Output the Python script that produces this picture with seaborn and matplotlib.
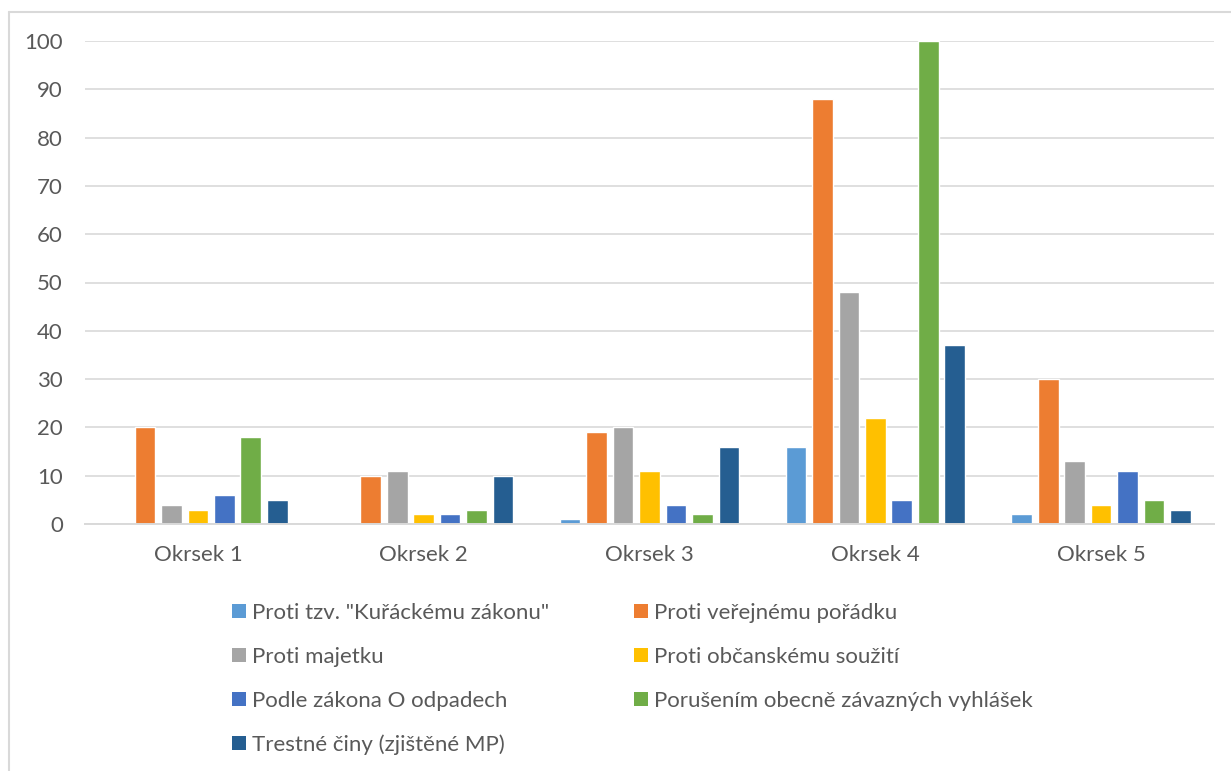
import pandas as pd
import matplotlib
matplotlib.use("Agg")
import matplotlib.pyplot as plt
import seaborn as sns
from matplotlib.patches import Patch
from matplotlib.lines import Line2D

# data
okrsky = ["Okrsek 1", "Okrsek 2", "Okrsek 3", "Okrsek 4", "Okrsek 5"]
kategorie = [
    'Proti tzv. "Kuřáckému zákonu"',
    "Proti veřejnému pořádku",
    "Proti majetku",
    "Proti občanskému soužití",
    "Podle zákona O odpadech",
    "Porušením obecně závazných vyhlášek",
    "Trestné činy (zjištěné MP)",
]
kuracky = [0, 0, 1, 16, 2]
verejny_poradek = [20, 10, 19, 88, 30]
majetek = [4, 11, 20, 48, 13]
obcanske_souziti = [3, 2, 11, 22, 4]
odpady = [6, 2, 4, 5, 11]
vyhlasky = [18, 3, 2, 100, 5]
trestne_ciny = [5, 10, 16, 37, 3]

barvy = ["#5B9BD5", "#ED7D31", "#A5A5A5", "#FFC000", "#4472C4", "#70AD47", "#255E91"]

# long format for seaborn
serie = [kuracky, verejny_poradek, majetek, obcanske_souziti, odpady, vyhlasky, trestne_ciny]
rows = []
for kat, hodnoty in zip(kategorie, serie):
    for okr, h in zip(okrsky, hodnoty):
        rows.append({"okrsek": okr, "typ": kat, "pocet": h})
df = pd.DataFrame(rows)

sns.set_style("white")
plt.rcParams["font.family"] = ["Lato", "DejaVu Sans"]

W, H = 1231, 771
fig = plt.figure(figsize=(W / 100, H / 100), dpi=100)
ax = fig.add_axes([85 / W, 1 - 524 / H, (1214 - 85) / W, (524 - 41) / H])

sns.barplot(data=df, x="okrsek", y="pocet", hue="typ", hue_order=kategorie,
            palette=barvy, width=0.82, gap=0.22, saturation=1, legend=False, ax=ax)

# axes styling (Excel look)
ax.set_ylim(0, 100)
ax.set_yticks(range(0, 101, 10))
ax.set_xlim(-0.5, len(okrsky) - 0.5)
ax.set_axisbelow(True)
ax.yaxis.grid(True, color="#d9d9d9", linewidth=1.2)
for s in ["top", "right", "left"]:
    ax.spines[s].set_visible(False)
ax.spines["bottom"].set_color("#d9d9d9")
ax.spines["bottom"].set_linewidth(1.4)
ax.tick_params(axis="both", length=0, labelsize=16, labelcolor="#595959")
ax.tick_params(axis="y", pad=16)
ax.tick_params(axis="x", pad=15)
ax.set_xlabel("")
ax.set_ylabel("")

# legend in two columns, filled row by row
handles = [Patch(facecolor=c, edgecolor="none") for c in barvy]
leg_kw = dict(loc="upper left", frameon=False, fontsize=16, labelcolor="#595959",
              handlelength=0.63, handleheight=0.59, handletextpad=0.25,
              labelspacing=1.07, borderpad=0, borderaxespad=0)
leg1 = fig.legend(handles[0::2], kategorie[0::2],
                  bbox_to_anchor=(232 / W, 1 - 603 / H), **leg_kw)
leg2 = fig.legend(handles[1::2], kategorie[1::2],
                  bbox_to_anchor=(634 / W, 1 - 603 / H), **leg_kw)

# chart area border (left and top only visible)
fig.add_artist(Line2D([8.5 / W, 8.5 / W], [0, 1 - 12 / H], color="#d9d9d9", linewidth=1.5))
fig.add_artist(Line2D([8.5 / W, 1], [1 - 12 / H, 1 - 12 / H], color="#d9d9d9", linewidth=1.5))

fig.savefig("out.png", dpi=100)
